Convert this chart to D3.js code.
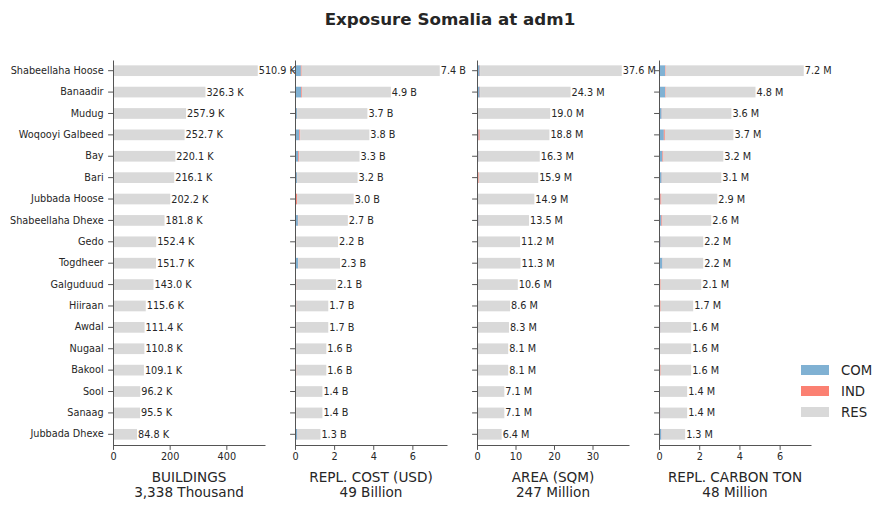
<!DOCTYPE html>
<html>
<head>
<meta charset="utf-8">
<script src="https://cdn.jsdelivr.net/npm/d3@7"></script>
<style>
  body { margin: 0; background: #fff; }
  text { font-family: "DejaVu Sans", sans-serif; fill: #262626; }
</style>
</head>
<body>
<svg id="chart" width="888" height="510"></svg>
<script>
// regions, top to bottom
const regions = ["Shabeellaha Hoose", "Banaadir", "Mudug", "Woqooyi Galbeed", "Bay", "Bari",
    "Jubbada Hoose", "Shabeellaha Dhexe", "Gedo", "Togdheer", "Galguduud", "Hiiraan",
    "Awdal", "Nugaal", "Bakool", "Sool", "Sanaag", "Jubbada Dhexe"];

const occupancy = ["COM", "IND", "RES"];

// buildings, thousands
const bldCom = [1.8, 2.1, 0.6, 1.2, 0.9, 0.5, 0.3, 0.8, 0.3, 0.9, 0.2, 0.2, 0.3, 0.1, 0.2, 0.1, 0.3, 0.4];
const bldInd = [0.3, 0.2, 0.1, 0.2, 0.2, 0.1, 0.2, 0.2, 0.1, 0.1, 0.2, 0.2, 0.1, 0.0, 0.2, 0.0, 0.1, 0.1];
const bldRes = [508.8, 324.0, 257.2, 251.3, 219.0, 215.5, 201.7, 180.8, 152.0, 150.7, 142.6, 115.2,
    111.0, 110.7, 108.7, 96.1, 95.1, 84.26];

// replacement cost, billion USD
const costCom = [0.30, 0.31, 0.10, 0.22, 0.17, 0.10, 0.03, 0.15, 0.05, 0.16, 0.02, 0.02, 0.05, 0.01, 0.02, 0.01, 0.05, 0.12];
const costInd = [0.04, 0.04, 0.01, 0.05, 0.04, 0.01, 0.07, 0.02, 0.01, 0.01, 0.05, 0.05, 0.01, 0.00, 0.05, 0.00, 0.01, 0.01];
const costRes = [7.06, 4.55, 3.59, 3.53, 3.09, 3.09, 2.90, 2.53, 2.14, 2.13, 2.03, 1.63, 1.64, 1.59, 1.53, 1.39, 1.34, 1.17];

// built-up area, million sqm
const areaCom = [0.7, 0.7, 0.1, 0.4, 0.4, 0.05, 0.05, 0.4, 0.05, 0.3, 0.05, 0.05, 0.1, 0.05, 0.05, 0.05, 0.1, 0.1];
const areaInd = [0.1, 0.1, 0.0, 0.3, 0.05, 0.4, 0.05, 0.05, 0.0, 0.0, 0.0, 0.0, 0.0, 0.0, 0.0, 0.0, 0.0, 0.0];
const areaRes = [36.8, 23.5, 18.9, 18.1, 15.85, 15.45, 14.8, 13.05, 11.15, 11.0, 10.55, 8.55, 8.2, 8.05, 8.05, 7.05, 7.0, 6.3];

// replacement carbon, million ton
const carbCom = [0.30, 0.30, 0.13, 0.24, 0.17, 0.13, 0.07, 0.12, 0.08, 0.17, 0.03, 0.03, 0.07, 0.01, 0.03, 0.01, 0.07, 0.12];
const carbInd = [0.03, 0.03, 0.01, 0.05, 0.05, 0.01, 0.05, 0.05, 0.01, 0.01, 0.05, 0.05, 0.01, 0.00, 0.05, 0.00, 0.01, 0.01];
const carbRes = [6.87, 4.47, 3.46, 3.41, 2.98, 2.96, 2.78, 2.43, 2.11, 2.02, 2.02, 1.62, 1.52, 1.59, 1.52, 1.39, 1.32, 1.17];

// tick labels per panel
const bldTicks = [0, 200, 400];
const costTicks = [0, 2, 4, 6];
const areaTicks = [0, 10, 20, 30];
const carbTicks = [0, 2, 4, 6];

const panels = [
    { title: "BUILDINGS", unit: "K", total: "Thousand", series: [bldCom, bldInd, bldRes], ticks: bldTicks },
    { title: "REPL. COST (USD)", unit: "B", total: "Billion", series: [costCom, costInd, costRes], ticks: costTicks },
    { title: "AREA (SQM)", unit: "M", total: "Million", series: [areaCom, areaInd, areaRes], ticks: areaTicks },
    { title: "REPL. CARBON TON", unit: "M", total: "Million", series: [carbCom, carbInd, carbRes], ticks: carbTicks }
];

const color = d3.scaleOrdinal().domain(occupancy).range(["#80b1d3", "#fb8072", "#d9d9d9"]);
const axisColor = "#555";
const tickFont = "9.7px";

const svg = d3.select("#chart");

svg.append("text")
    .attr("x", 450).attr("y", 25)
    .attr("text-anchor", "middle")
    .style("font-size", "16.7px").style("font-weight", "bold")
    .text("Exposure Somalia at adm1");

const y = d3.scaleBand()
    .domain(regions)
    .range([60, 445])
    .paddingInner(0.5)
    .paddingOuter(0.25);

const panelLeft = [113, 295, 477, 659];
const panelWidth = 152;

panels.forEach((p, pi) => {
    const rows = regions.map((name, i) => {
        const row = { name };
        occupancy.forEach((k, si) => row[k] = p.series[si][i]);
        row.total = d3.sum(occupancy, k => row[k]);
        return row;
    });

    const x0 = panelLeft[pi];
    const x = d3.scaleLinear()
        .domain([0, d3.max(rows, d => d.total) * 1.05])
        .range([x0, x0 + panelWidth]);

    const g = svg.append("g");

    // stacked bars
    const stacked = d3.stack().keys(occupancy)(rows);
    g.selectAll(".layer")
        .data(stacked)
        .enter().append("g")
        .attr("fill", d => color(d.key))
        .selectAll("rect")
        .data(d => d)
        .enter().append("rect")
        .attr("x", d => x(d[0]))
        .attr("width", d => Math.max(0, x(d[1]) - x(d[0])))
        .attr("y", d => y(d.data.name))
        .attr("height", y.bandwidth());

    // value labels
    g.selectAll(".val")
        .data(rows)
        .enter().append("text")
        .attr("x", d => x(d.total) + 1)
        .attr("y", d => y(d.name) + y.bandwidth() / 2)
        .attr("dominant-baseline", "central")
        .style("font-size", tickFont)
        .text(d => d.total.toFixed(1) + " " + p.unit);

    // x axis
    const xAxis = g.append("g")
        .attr("transform", "translate(0,445)")
        .call(d3.axisBottom(x).tickValues(p.ticks).tickSize(4.9).tickPadding(3.5).tickSizeOuter(0));
    xAxis.select(".domain").attr("stroke", axisColor);
    xAxis.selectAll(".tick line").attr("stroke", axisColor);
    xAxis.selectAll(".tick text").style("font-size", tickFont).attr("fill", "#262626")
        .style("font-family", "DejaVu Sans, sans-serif");

    // y axis
    const yAxis = g.append("g")
        .attr("transform", `translate(${x0},0)`)
        .call(d3.axisLeft(y).tickSize(4.9).tickPadding(4.5).tickSizeOuter(0));
    yAxis.select(".domain").attr("stroke", axisColor);
    yAxis.selectAll(".tick line").attr("stroke", axisColor);
    yAxis.selectAll(".tick text").style("font-size", tickFont).attr("fill", "#262626")
        .style("font-family", "DejaVu Sans, sans-serif");
    if (pi > 0) yAxis.selectAll(".tick text").remove();

    // panel caption with total
    const grand = d3.sum(rows, d => d.total);
    const cx = x0 + panelWidth / 2;
    g.append("text")
        .attr("x", cx).attr("y", 481.7)
        .attr("text-anchor", "middle")
        .style("font-size", "13.6px")
        .text(p.title);
    g.append("text")
        .attr("x", cx).attr("y", 496.5)
        .attr("text-anchor", "middle")
        .style("font-size", "13.6px")
        .text(d3.format(",.0f")(grand) + " " + p.total);
});

// legend
const legend = svg.append("g").attr("transform", "translate(801,370)");
occupancy.forEach((k, i) => {
    legend.append("rect")
        .attr("x", 0).attr("y", i * 21 - 5)
        .attr("width", 28).attr("height", 10)
        .attr("fill", color(k));
    legend.append("text")
        .attr("x", 40).attr("y", i * 21)
        .attr("dominant-baseline", "central")
        .style("font-size", "13.3px")
        .text(k);
});
</script>
</body>
</html>
